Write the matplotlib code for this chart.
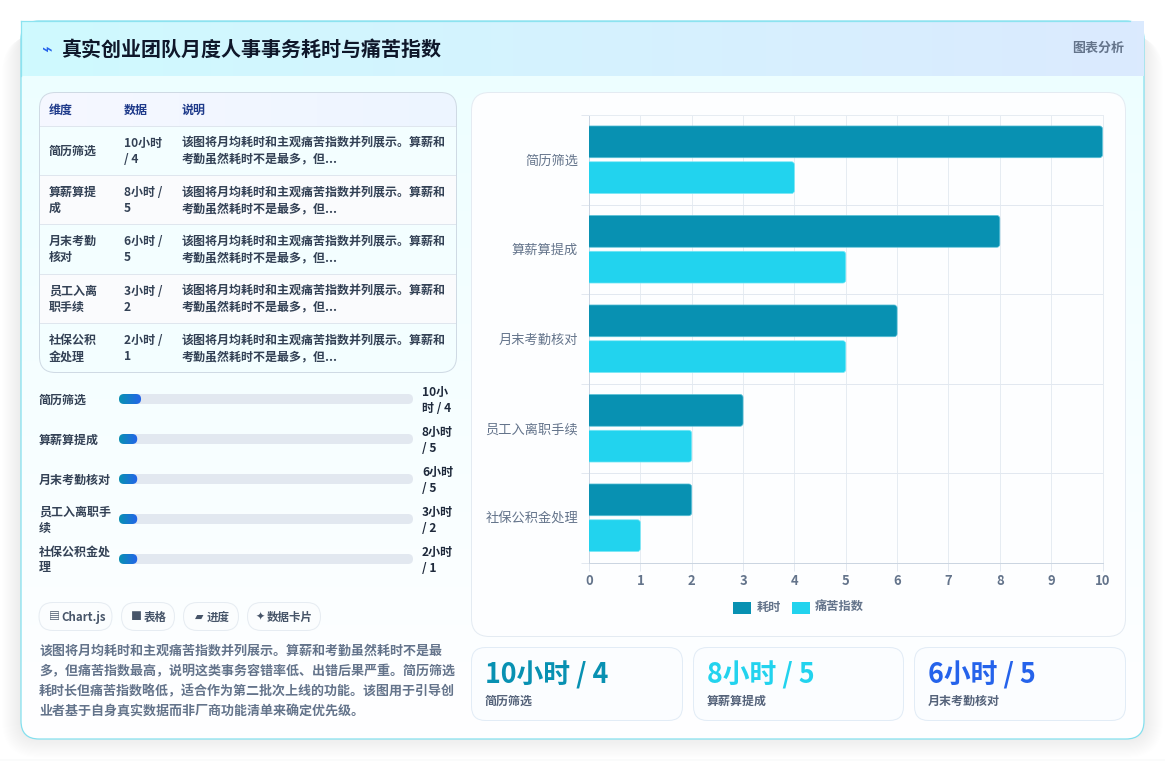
import matplotlib
matplotlib.use('Agg')
import matplotlib.pyplot as plt
import numpy as np
from matplotlib.patches import FancyBboxPatch, Rectangle
from matplotlib.colors import LinearSegmentedColormap

plt.rcParams['font.family'] = ['Noto Sans CJK SC', 'DejaVu Sans']

title = '真实创业团队月度人事事务耗时与痛苦指数'
categories = ['简历筛选', '算薪算提成', '月末考勤核对', '员工入离职手续', '社保公积金处理']
table_names = [['简历筛选'], ['算薪算提', '成'], ['月末考勤', '核对'], ['员工入离', '职手续'], ['社保公积', '金处理']]
hours = [10, 8, 6, 3, 2]
pain = [4, 5, 5, 2, 1]
table_vals = [['10小时', '/ 4'], ['8小时 /', '5'], ['6小时 /', '5'], ['3小时 /', '2'], ['2小时 /', '1']]
bar_names = [['简历筛选'], ['算薪算提成'], ['月末考勤核对'], ['员工入离职手', '续'], ['社保公积金处', '理']]
bar_vals = [['10小', '时 / 4'], ['8小时', '/ 5'], ['6小时', '/ 5'], ['3小时', '/ 2'], ['2小时', '/ 1']]
progress = [0.075, 0.062, 0.062, 0.062, 0.062]
note_lines = ['该图将月均耗时和主观痛苦指数并列展示。算薪和', '考勤虽然耗时不是最多，但...']
para = ['该图将月均耗时和主观痛苦指数并列展示。算薪和考勤虽然耗时不是最',
        '多，但痛苦指数最高，说明这类事务容错率低、出错后果严重。简历筛选',
        '耗时长但痛苦指数略低，适合作为第二批次上线的功能。该图用于引导创',
        '业者基于自身真实数据而非厂商功能清单来确定优先级。']
chips = ['Chart.js', '表格', '进度', '数据卡片']
card_vals = ['10小时 / 4', '8小时 / 5', '6小时 / 5']
card_names = ['简历筛选', '算薪算提成', '月末考勤核对']

W, H = 1165, 761
PX = 0.72  # one pixel in points at dpi 100
fig = plt.figure(figsize=(W / 100, H / 100), dpi=100)
bg = fig.add_axes([0, 0, 1, 1])
bg.set_xlim(0, W)
bg.set_ylim(H, 0)
bg.axis('off')


def box(ax, x0, y0, x1, y1, r, fc='white', ec='none', lw=PX, z=2, alpha=None):
    p = FancyBboxPatch((x0 + r, y0 + r), x1 - x0 - 2 * r, y1 - y0 - 2 * r,
                       boxstyle='round,pad=%f,rounding_size=%f' % (r, r),
                       fc=fc, ec=ec, lw=lw, zorder=z, alpha=alpha)
    ax.add_patch(p)
    return p


def grad(ax, x0, y0, x1, y1, c0, c1, clip=None, z=1, horiz=True):
    cmap = LinearSegmentedColormap.from_list('g', [c0, c1])
    arr = np.linspace(0, 1, 256).reshape(1, -1) if horiz else np.linspace(0, 1, 256).reshape(-1, 1)
    im = ax.imshow(arr, extent=(x0, x1, y1, y0), cmap=cmap, aspect='auto', zorder=z,
                   interpolation='bilinear')
    if clip is not None:
        im.set_clip_path(clip)
    ax.set_xlim(0, W)
    ax.set_ylim(H, 0)
    return im


def txt(x, y, s, size, color, weight='normal', ha='left', z=6):
    return bg.text(x, y + 1, s, fontsize=size * PX, color=color, fontweight=weight,
                   ha=ha, va='center', zorder=z)


# page and soft shadow under the main card
bg.add_patch(Rectangle((0, 0), W, H, fc='white', ec='none', zorder=0))
for i in range(20):
    box(bg, 21 - i, 30 + i * 0.3, 1144 + i, 737 + i * 1.1, 18 + i, fc='black', z=0.5, alpha=0.0028)
bg.add_patch(Rectangle((0, 759), W, 2, fc='#fafbfb', ec='none', zorder=0.6))

# main card
card = box(bg, 21, 21, 1144, 739, 18, fc='none', ec='none', z=1)
grad(bg, 21, 21, 1144, 739, '#ecfeff', '#ffffff', clip=card, z=1, horiz=False)
box(bg, 21, 21, 1144, 739, 18, fc='none', ec='#84e0ee', lw=0.9, z=1.4)
grad(bg, 21, 21, 1144, 76, '#cffafe', '#dbeafe', z=1.5)
bg.plot([21, 1130], [21, 21], color='#8ce3f0', lw=0.9, zorder=1.6)
bg.plot([21, 21], [21, 76], color='#8ce3f0', lw=0.9, zorder=1.6)

txt(47, 49, '⌁', 18, '#2563eb', 'bold', ha='center')
txt(61.5, 48.5, title, 20, '#0f172a', 'bold')
txt(1124, 47, '图表分析', 13, '#64748b', 'bold', ha='right')

# table panel
t = box(bg, 39.5, 92.5, 456.5, 372.5, 16, fc='#ffffff', ec='none', z=2)
grad(bg, 40, 93, 456, 126, '#f6f8ff', '#edf5ff', clip=t, z=2.1)
rows_y = [125.5, 175, 224, 273.5, 323, 372.5]
for i in range(5):
    c = '#f3feff' if i % 2 == 0 else '#fafbfd'
    r = Rectangle((40, rows_y[i]), 416, rows_y[i + 1] - rows_y[i], fc=c, ec='none', zorder=2.1)
    bg.add_patch(r)
    r.set_clip_path(t)
    bg.plot([40, 456], [rows_y[i], rows_y[i]], color='#dfe6ee', lw=PX, zorder=2.3)
    n = table_names[i]
    cy = (rows_y[i] + rows_y[i + 1]) / 2
    if len(n) == 1:
        txt(49, cy, n[0], 12, '#334155', 'bold')
    else:
        txt(49, cy - 8, n[0], 12, '#334155', 'bold')
        txt(49, cy + 8, n[1], 12, '#334155', 'bold')
    txt(124, cy - 8, table_vals[i][0], 12, '#334155', 'bold')
    txt(124, cy + 8, table_vals[i][1], 12, '#334155', 'bold')
    txt(182, cy - 8, note_lines[0], 12, '#334155', 'bold')
    txt(182, cy + 8, note_lines[1], 12, '#334155', 'bold')
box(bg, 39.5, 92.5, 456.5, 372.5, 16, fc='none', ec='#cfdae4', lw=PX, z=2.6)
for x, s in zip([49, 124, 182], ['维度', '数据', '说明']):
    txt(x, 109, s, 12, '#1e3a8a', 'bold')

# progress rows
row_c = [399, 439, 479, 519, 559]
for i in range(5):
    box(bg, 119, row_c[i] - 5, 413, row_c[i] + 5, 5, fc='#e2e8f0', z=2)
    w = 294 * progress[i]
    b = box(bg, 119, row_c[i] - 5, 119 + w, row_c[i] + 5, 5, fc='none', z=2.1)
    grad(bg, 119, row_c[i] - 5, 119 + w, row_c[i] + 5, '#0891b2', '#2563eb', clip=b, z=2.2)
    n = bar_names[i]
    if len(n) == 1:
        txt(39, row_c[i], n[0], 12, '#334155', 'bold')
    else:
        txt(39, row_c[i] - 8, n[0], 12, '#334155', 'bold')
        txt(39, row_c[i] + 8, n[1], 12, '#334155', 'bold')
    txt(422, row_c[i] - 8, bar_vals[i][0], 12, '#1e293b', 'bold')
    txt(422, row_c[i] + 8, bar_vals[i][1], 12, '#1e293b', 'bold')

# chips
chip_x = [(39, 112), (121.5, 174.5), (183.5, 238.5), (247.5, 320.5)]
chip_icon = ['▤', '■', '▰', '✦']
chip_tx = [61.5, 143.5, 207, 267]
icon_x = [54, 136, 199, 260.5]
for (a, b), ic, tx, ix, s in zip(chip_x, chip_icon, chip_tx, icon_x, chips):
    box(bg, a, 602.5, b, 630.5, 14, fc='#fbfdfe', ec='#e6ecf2', z=2)
    txt(ix, 616, ic, 11, '#475569', 'bold', ha='center')
    txt(tx, 616, s, 11.5, '#475569', 'bold')

# paragraph
for y, s in zip([650, 670.5, 690.5, 711], para):
    txt(39, y, s, 13, '#64748b', 'bold')

# right chart panel
box(bg, 471.5, 92.5, 1125.5, 636.5, 18, fc='#fdfeff', ec='#e4ebf2', z=2)
x0, x1, y0, y1 = 589, 1102.5, 115, 562.5
ax = fig.add_axes([x0 / W, 1 - y1 / H, (x1 - x0) / W, (y1 - y0) / H], zorder=3)
ax.patch.set_alpha(0)
n = len(categories)
ypos = np.arange(n)
h1 = ax.barh(ypos - 0.2, hours, height=0.355, color='#0891b2')
h2 = ax.barh(ypos + 0.2, pain, height=0.355, color='#22d3ee')
ax.set_xlim(0, 10)
ax.set_ylim(n - 0.5, -0.5)
# swap the plain rectangles for ones with rounded right corners
px_x = (x1 - x0) / 10
px_y = (y1 - y0) / n
rad = 3 / px_x
for r, edge in [(p, '#5cc3d9') for p in h1.patches] + [(p, '#7be8f6') for p in h2.patches]:
    r.set_visible(False)
    ax.add_patch(FancyBboxPatch((r.get_x() - rad, r.get_y()), r.get_width() + rad, r.get_height(),
                                boxstyle='round,pad=0,rounding_size=%f' % rad,
                                mutation_aspect=px_x / px_y,
                                fc=r.get_facecolor(), ec=edge, lw=0.5, zorder=3))
ax.set_xticks(range(11))
ax.set_yticks(ypos)
ax.set_yticks(np.arange(-0.5, n), minor=True)
ax.set_yticklabels(categories)
ax.grid(True, which='major', axis='x', color='#e6ecf2', lw=PX)
ax.grid(True, which='minor', axis='y', color='#e2e8f0', lw=PX)
ax.set_axisbelow(True)
ax.tick_params(axis='y', which='major', length=0, labelsize=13.2 * PX, labelcolor='#64748b', pad=7.9)
ax.tick_params(axis='y', which='minor', length=5.8, width=PX, color='#e2e8f0')
ax.tick_params(axis='x', length=5.8, width=PX, color='#e2e8f0', labelsize=13 * PX, labelcolor='#64748b', pad=2.7)
for lab in ax.get_xticklabels():
    lab.set_fontweight('bold')
for s in ['top', 'right']:
    ax.spines[s].set_color('#e6ecf2')
    ax.spines[s].set_linewidth(PX)
for s in ['left', 'bottom']:
    ax.spines[s].set_color('#cbd5e1')
    ax.spines[s].set_linewidth(PX)

# legend
bg.add_patch(Rectangle((733, 602), 18, 12, fc='#0891b2', ec='none', zorder=4))
bg.add_patch(Rectangle((792, 602), 18, 12, fc='#22d3ee', ec='none', zorder=4))
txt(757, 606.5, '耗时', 12.2, '#64748b', 'bold')
txt(815, 606.5, '痛苦指数', 12.2, '#64748b', 'bold')

# stat cards
card_x = [(471.5, 682.5), (693.5, 903.5), (914.5, 1125.5)]
card_c = ['#0891b2', '#22d3ee', '#2563eb']
for (a, b), c, v, s in zip(card_x, card_c, card_vals, card_names):
    box(bg, a, 647.5, b, 720.5, 14, fc='#fbfdff', ec='#e2ecf6', z=2)
    txt(a + 13.5, 674, v, 26.8, c, 'bold')
    txt(a + 13.5, 700, s, 12, '#55637a', 'bold')

fig.savefig('out.png', dpi=100)
